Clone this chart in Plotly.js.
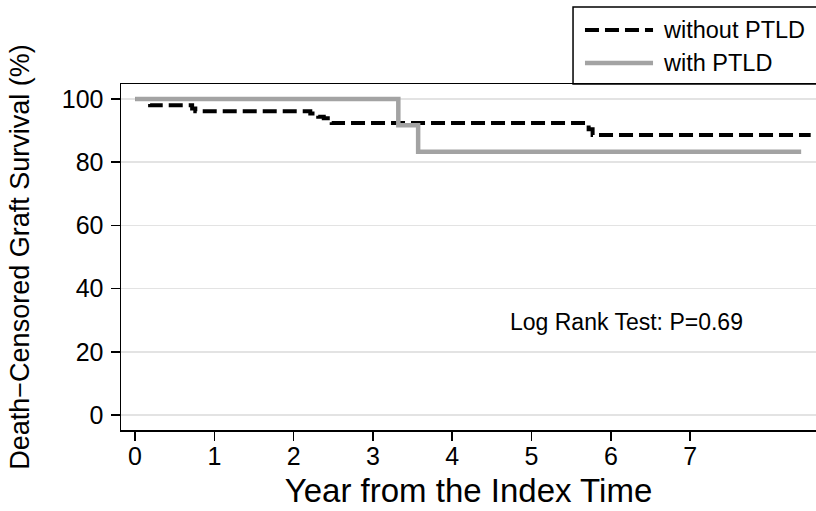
<!DOCTYPE html>
<html>
<head>
<meta charset="utf-8">
<script src="https://cdn.plot.ly/plotly-3.0.1.min.js"></script>
<style>html,body{margin:0;padding:0;background:#fff;}#chart{width:816px;height:511px;}</style>
</head>
<body>
<div id="chart"></div>
<script>
// Series names
var seriesNames = ["without PTLD", "with PTLD"];
// Without PTLD: step times (years) and survival (%)
var timeWithout = [0, 0.19, 0.72, 0.76, 2.21, 2.31, 2.38, 2.48, 5.72, 5.77, 8.52];
var survWithout = [100, 98.0, 97.0, 96.1, 95.4, 94.4, 93.9, 92.4, 90.4, 88.6, 88.6];
// With PTLD
var timeWith = [0, 3.32, 3.57, 8.40];
var survWith = [100, 91.7, 83.3, 83.3];
// Tick values
var xTicks = [0, 1, 2, 3, 4, 5, 6, 7];
var yTicks = [0, 20, 40, 60, 80, 100];
var annotationText = "Log Rank Test: P=0.69";

var FONT = "Liberation Sans, Arial, Helvetica, sans-serif";

var traces = [
  {
    x: timeWithout, y: survWithout, name: seriesNames[0],
    type: "scatter", mode: "lines", line: {shape: "hv", color: "#000000", width: 4, dash: "14px,6px"},
    showlegend: false, hoverinfo: "skip"
  },
  {
    x: timeWith, y: survWith, name: seriesNames[1],
    type: "scatter", mode: "lines", line: {shape: "hv", color: "#a3a3a3", width: 4.5},
    showlegend: false, hoverinfo: "skip"
  }
];

var layout = {
  width: 816, height: 511,
  margin: {l: 121, r: 0, t: 84, b: 81, pad: 0},
  paper_bgcolor: "#ffffff", plot_bgcolor: "#ffffff",
  font: {family: FONT, color: "#000000", size: 25},
  showlegend: false,
  xaxis: {
    range: [-0.177, 8.587], tickvals: xTicks, ticktext: xTicks.map(String),
    ticks: "outside", ticklen: 9, tickwidth: 1.5, tickcolor: "#000000",
    showline: true, linecolor: "#000000", linewidth: 1.5, mirror: true,
    showgrid: false, zeroline: false, ticklabelstandoff: -6,
    tickfont: {size: 25, family: FONT},
    title: {text: "Year from the Index Time", font: {size: 33, family: FONT}, standoff: 10}
  },
  yaxis: {
    range: [-4.75, 104.75], tickvals: yTicks, ticktext: yTicks.map(String),
    ticks: "outside", ticklen: 9, tickwidth: 1.5, tickcolor: "#000000",
    showline: true, linecolor: "#000000", linewidth: 1.5, mirror: false,
    showgrid: true, gridcolor: "#e3e3e3", gridwidth: 1.5, zeroline: false, ticklabelstandoff: 2,
    tickfont: {size: 25, family: FONT},
    title: {text: "Death\u2212Censored Graft Survival (%)", font: {size: 27, family: FONT}, standoff: 24}
  },
  shapes: [
    // legend box
    {type: "rect", xref: "paper", yref: "paper", x0: 0.6504, x1: 1.05, y0: 1.0, y1: 1.2225,
     line: {color: "#000000", width: 1.5}, fillcolor: "rgba(0,0,0,0)"},
    // legend samples
    {type: "line", xref: "paper", yref: "paper", x0: 0.6676, x1: 0.7655, y0: 1.156, y1: 1.156,
     line: {color: "#000000", width: 4, dash: "14px,6px"}},
    {type: "line", xref: "paper", yref: "paper", x0: 0.6676, x1: 0.7655, y0: 1.0607, y1: 1.0607,
     line: {color: "#a3a3a3", width: 4.5}}
  ],
  annotations: [
    {xref: "paper", yref: "paper", x: 0.7770, y: 1.156, xanchor: "left", yanchor: "middle",
     text: seriesNames[0], showarrow: false, font: {size: 23.5, family: FONT}},
    {xref: "paper", yref: "paper", x: 0.7770, y: 1.0607, xanchor: "left", yanchor: "middle",
     text: seriesNames[1], showarrow: false, font: {size: 23.5, family: FONT}},
    {xref: "x", yref: "y", x: 6.2, y: 29.4, xanchor: "center", yanchor: "middle",
     text: annotationText, showarrow: false, font: {size: 23, family: FONT}}
  ]
};

Plotly.newPlot("chart", traces, layout, {staticPlot: true, displayModeBar: false});
</script>
</body>
</html>
